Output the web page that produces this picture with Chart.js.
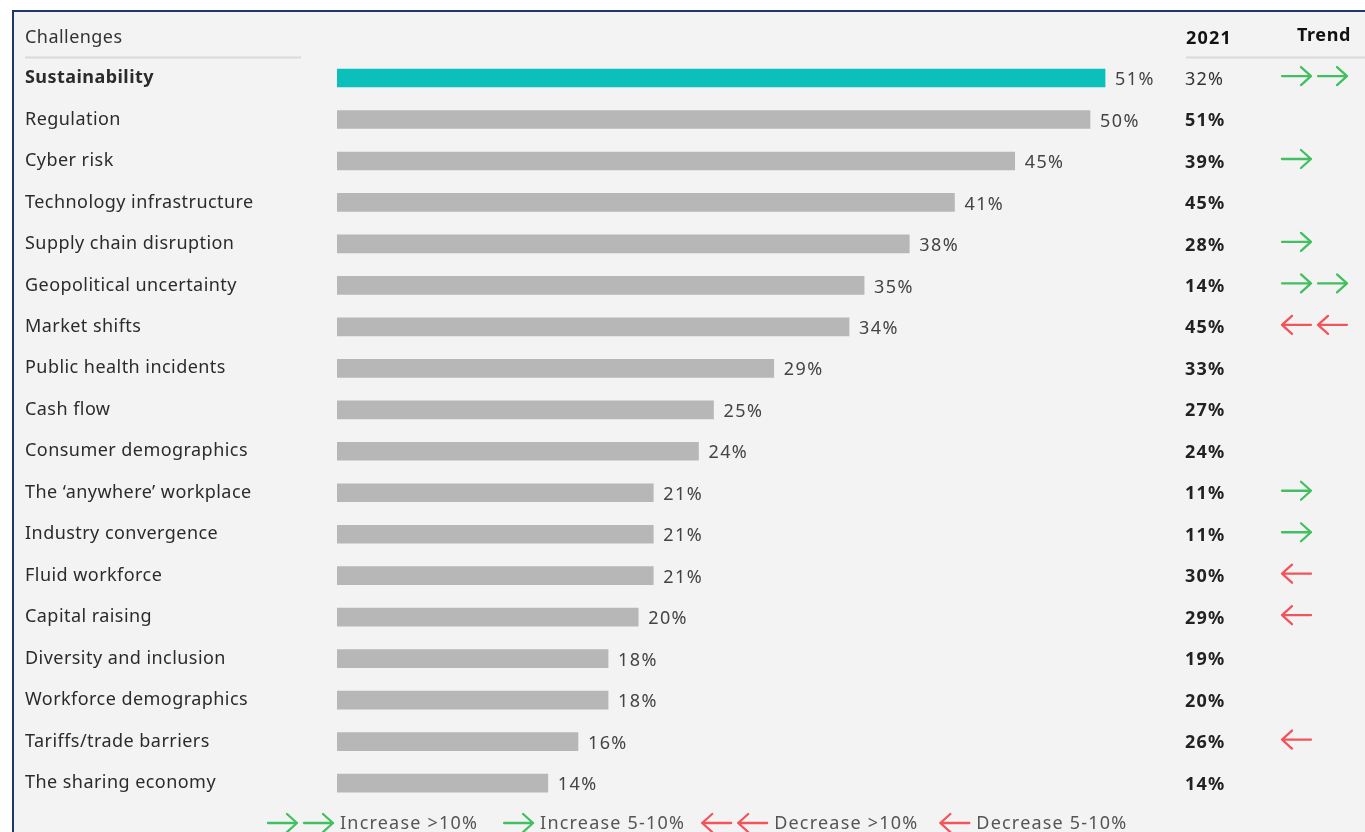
<!DOCTYPE html>
<html>
<head>
<meta charset="utf-8">
<script src="https://cdn.jsdelivr.net/npm/chart.js@4"></script>
<style>
	body { margin: 0; background: #fff; overflow: hidden; }
	#panel { position: absolute; left: 12px; top: 10px; width: 1400px; height: 900px; background: #f3f3f3; border-left: 2px solid #1f3864; border-top: 2px solid #1f3864; }
	#chart { position: absolute; left: 0; top: 0; }
</style>
</head>
<body>
<div id="panel"></div>
<canvas id="chart" width="1365" height="832"></canvas>
<script>
let challenges = ['Sustainability', 'Regulation', 'Cyber risk', 'Technology infrastructure', 'Supply chain disruption',
	'Geopolitical uncertainty', 'Market shifts', 'Public health incidents', 'Cash flow', 'Consumer demographics',
	'The \u2018anywhere\u2019 workplace', 'Industry convergence', 'Fluid workforce', 'Capital raising',
	'Diversity and inclusion', 'Workforce demographics', 'Tariffs/trade barriers', 'The sharing economy'];
let shares = [51, 50, 45, 41, 38, 35, 34, 29, 25, 24, 21, 21, 21, 20, 18, 18, 16, 14];
let shares2021 = [32, 51, 39, 45, 28, 14, 45, 33, 27, 24, 11, 11, 30, 29, 19, 20, 26, 14];
// 2 = increase >10%, 1 = increase 5-10%, -2 = decrease >10%, -1 = decrease 5-10%
let trend = [2, 0, 1, 0, 1, 2, -2, 0, 0, 0, 1, 1, -1, -1, 0, 0, -1, 0];
let legendItems = [
	{code: 2, text: 'Increase >10%'},
	{code: 1, text: 'Increase 5-10%'},
	{code: -2, text: 'Decrease >10%'},
	{code: -1, text: 'Decrease 5-10%'}
];

const FONT = '"Noto Sans", sans-serif';
const GREEN = '#42bf60';
const RED = '#f2545b';

function arrow(ctx, x0, yc, dir, color) {
	let len = 29, hx = 10, hy = 9;
	let tail = dir > 0 ? x0 : x0 + len;
	let tip = dir > 0 ? x0 + len : x0;
	ctx.save();
	ctx.strokeStyle = color;
	ctx.lineWidth = 2.3;
	ctx.lineCap = 'round';
	ctx.lineJoin = 'round';
	ctx.beginPath();
	ctx.moveTo(tail, yc);
	ctx.lineTo(tip, yc);
	ctx.moveTo(tip - dir * hx, yc - hy);
	ctx.lineTo(tip, yc);
	ctx.lineTo(tip - dir * hx, yc + hy);
	ctx.stroke();
	ctx.restore();
}

// draws the arrows for one trend code, returns the x after them
function trendArrows(ctx, x, yc, code) {
	if (code === 0) return x;
	let dir = code > 0 ? 1 : -1;
	let color = code > 0 ? GREEN : RED;
	let n = Math.abs(code);
	for (let i = 0; i < n; i++) {
		arrow(ctx, x + i * 36, yc, dir, color);
	}
	return x + (n - 1) * 36 + 29;
}

const extras = {
	id: 'extras',
	beforeDraw(chart) {
		chart.ctx.letterSpacing = '0.45px';
	},
	afterDatasetsDraw(chart) {
		let ctx = chart.ctx;
		let x = chart.scales.x;
		let y = chart.scales.y;
		ctx.save();

		// header
		ctx.textBaseline = 'middle';
		ctx.textAlign = 'left';
		ctx.fillStyle = '#333';
		ctx.letterSpacing = '0.45px';
		ctx.font = '18px ' + FONT;
		ctx.fillText('Challenges', 25, 38);
		ctx.font = 'bold 18px ' + FONT;
		ctx.fillStyle = '#111';
		ctx.letterSpacing = '1.2px';
		ctx.fillText('2021', 1186, 39);
		ctx.letterSpacing = '0.6px';
		ctx.fillText('Trend', 1297, 36);
		ctx.strokeStyle = '#d9d9d9';
		ctx.lineWidth = 2;
		ctx.beginPath();
		ctx.moveTo(25, 57.5); ctx.lineTo(301, 57.5);
		ctx.moveTo(1186, 57.5); ctx.lineTo(1365, 57.5);
		ctx.stroke();

		// value labels, 2021 column, trend arrows
		shares.forEach((v, i) => {
			let yc = y.getPixelForValue(i);
			ctx.letterSpacing = '1.4px';
			ctx.font = '18px ' + FONT;
			ctx.fillStyle = '#444';
			ctx.fillText(v + '%', x.getPixelForValue(v) + 10, yc + 2);
			ctx.letterSpacing = '1.2px';
			ctx.font = (i === 0 ? '' : 'bold ') + '18px ' + FONT;
			ctx.fillStyle = i === 0 ? '#333' : '#222';
			ctx.fillText(shares2021[i] + '%', 1185, yc + 1.5);
			trendArrows(ctx, 1282, yc - 2, trend[i]);
		});

		// legend
		let lx = 268, ly = 823;
		ctx.font = '18px ' + FONT;
		ctx.letterSpacing = '1.2px';
		ctx.fillStyle = '#555';
		let gaps = [26, 17, 22, 0];
		legendItems.forEach((item, i) => {
			let end = trendArrows(ctx, lx, ly, item.code);
			ctx.fillText(item.text, end + 7, ly + 1);
			lx = end + 7 + ctx.measureText(item.text).width + gaps[i];
		});
		ctx.restore();
	}
};

new Chart(document.querySelector('#chart'), {
	type: 'bar',
	data: {
		labels: challenges,
		datasets: [{
			data: shares,
			backgroundColor: shares.map((v, i) => i === 0 ? '#0bbfbb' : '#b7b7b7'),
			borderWidth: 0,
			barThickness: 18
		}]
	},
	options: {
		indexAxis: 'y',
		responsive: false,
		devicePixelRatio: 1,
		animation: false,
		layout: {
			padding: {top: 57.3, bottom: 28.2, left: 25, right: 124.4}
		},
		scales: {
			x: {
				display: false,
				min: 0,
				max: 60
			},
			y: {
				grid: {display: false},
				border: {display: false},
				afterFit: (scale) => { scale.width = 312; },
				ticks: {
					crossAlign: 'far',
					color: '#2b2b2b',
					padding: 0,
					font: (c) => ({family: FONT, size: 18, weight: c.index === 0 ? 'bold' : 'normal'})
				}
			}
		},
		plugins: {
			legend: {display: false},
			tooltip: {enabled: false}
		}
	},
	plugins: [extras]
});
</script>
</body>
</html>
